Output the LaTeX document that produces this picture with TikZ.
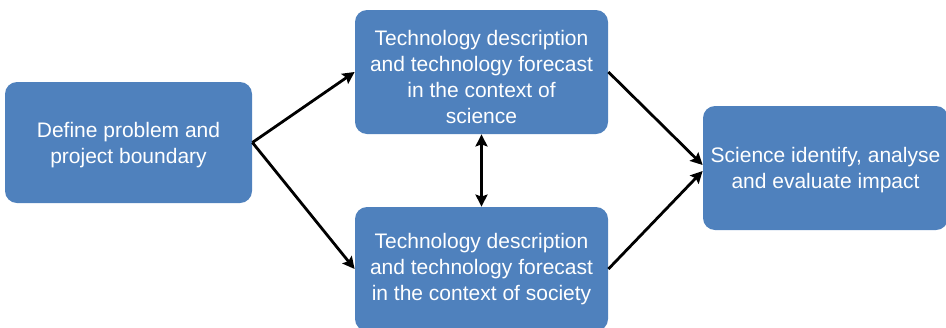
\documentclass[tikz,border=0pt]{standalone}
\usepackage{fontspec}
\setmainfont{Liberation Sans}
\usepackage{xcolor}
\usetikzlibrary{arrows.meta, positioning}

\definecolor{boxblue}{HTML}{4F81BD}

\begin{document}
\begin{tikzpicture}[
    x=0.5pt, y=-0.5pt,
    stage/.style={fill=boxblue, rounded corners=6pt, text=white, align=center,
        font=\fontsize{10.5}{13}\selectfont, inner sep=0pt},
    arr/.style={-{Stealth[length=6pt, width=6pt, inset=1pt]}, line width=1.4pt},
    dblarr/.style={{Stealth[length=6pt, width=6pt, inset=1pt]}-{Stealth[length=6pt, width=6pt, inset=1pt]}, line width=1.4pt},
]
\useasboundingbox (0,0) rectangle (946,327);

\node[stage, minimum width=123.5pt, minimum height=60.5pt] (define) at (128.5,142.5) {\rule{0pt}{10pt}Define problem and\\project boundary};
\node[stage, minimum width=126.5pt, minimum height=62pt] (techsci) at (481.5,72) {\rule{0pt}{13pt}Technology description\\and technology forecast\\in the context of\\science};
\node[stage, minimum width=126.5pt, minimum height=62pt] (techsoc) at (481.5,269) {Technology description\\and technology forecast\\in the context of society};
\node[stage, minimum width=122.5pt, minimum height=62pt] (impact) at (825.5,168) {\rule{0pt}{10pt}Science identify, analyse\\and evaluate impact};

\draw[arr] (define.east) -- (techsci.west);
\draw[arr] (define.east) -- (techsoc.west);
\draw[dblarr] (techsci.south) -- (techsoc.north);
\draw[arr] (techsci.east) -- ([yshift=1.5pt]impact.west);
\draw[arr] (techsoc.east) -- ([yshift=-1.5pt]impact.west);

\end{tikzpicture}
\end{document}
